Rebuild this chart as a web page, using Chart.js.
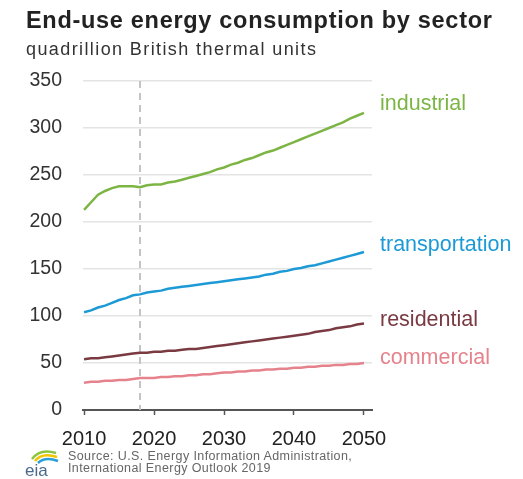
<!DOCTYPE html>
<html>
<head>
<meta charset="utf-8">
<script src="https://cdn.jsdelivr.net/npm/chart.js@4.4.1/dist/chart.umd.min.js"></script>
<style>
body{margin:0;background:#fff;font-family:"Liberation Sans",Arial,sans-serif;}
#cont{position:relative;width:523px;height:479px;overflow:hidden;}
#titulo{position:absolute;left:26px;top:9px;font-size:23.5px;letter-spacing:0.7px;line-height:1;font-weight:bold;color:#222;white-space:nowrap;}
#subtitulo{position:absolute;left:26px;top:40px;font-size:18px;letter-spacing:1.4px;line-height:1;color:#333;white-space:nowrap;}
#grafica{position:absolute;left:0;top:0;}
#fuente{position:absolute;left:68px;top:450px;font-size:12.5px;letter-spacing:0.4px;line-height:12px;color:#666;white-space:nowrap;}
#logo{position:absolute;left:22px;top:446px;}
</style>
</head>
<body>
<div id="cont">
  <canvas id="grafica" width="523" height="479"></canvas>
  <div id="titulo">End-use energy consumption by sector</div>
  <div id="subtitulo">quadrillion British thermal units</div>
  <svg id="logo" width="40" height="32" viewBox="0 0 40 32">
    <path d="M10 13 Q18 2 34 7" stroke="#8cc63f" stroke-width="2.5" fill="none"/>
    <path d="M13 15 Q20 6 35 11" stroke="#f2c500" stroke-width="2.5" fill="none"/>
    <path d="M16 17 Q23 10 36 15" stroke="#2a9fd8" stroke-width="2.5" fill="none"/>
    <text x="3" y="30" font-family="Liberation Sans, Arial, sans-serif" font-size="17" fill="#4a6a8c">eia</text>
  </svg>
  <div id="fuente">Source: U.S. Energy Information Administration,<br>International Energy Outlook 2019</div>
</div>
<script>
//datos
const anios=[2010,2011,2012,2013,2014,2015,2016,2017,2018,2019,2020,2021,2022,2023,2024,2025,2026,2027,2028,2029,2030,
  2031,2032,2033,2034,2035,2036,2037,2038,2039,2040,2041,2042,2043,2044,2045,2046,2047,2048,2049,2050];
const industrial=[213,221,229,233,236,238,238,238,237,239,240,240,242,243,245,247,249,251,253,256,258,
  261,263,266,268,271,274,276,279,282,285,288,291,294,297,300,303,306,310,313,316];
const transportation=[104,106,109,111,114,117,119,122,123,125,126,127,129,130,131,132,133,134,135,136,137,
  138,139,140,141,142,144,145,147,148,150,151,153,154,156,158,160,162,164,166,168];
const residential=[54,55,55,56,57,58,59,60,61,61,62,62,63,63,64,65,65,66,67,68,69,
  70,71,72,73,74,75,76,77,78,79,80,81,83,84,85,87,88,89,91,92];
const commercial=[29,30,30,31,31,32,32,33,34,34,34,35,35,36,36,37,37,38,38,39,40,
  40,41,41,42,42,43,43,44,44,45,45,46,46,47,47,48,48,49,49,50];
const nombres=['industrial','transportation','residential','commercial'];
const ticksX=[2010,2020,2030,2040,2050];
const anioHistorico=2018;

//estilos
const colores=['#7db545','#1d9ad6','#7a3a42','#e5828c'];
const ajusteEtiqueta=[-9,-7,-3,-5];

function puntos(valores){
  return valores.map((v,i)=>({x:anios[i],y:v}));
}

const series=[industrial,transportation,residential,commercial];

//linea punteada y etiquetas al final
const extras={
  id:'extras',
  beforeDatasetsDraw(chart){
    const ctx=chart.ctx;
    const area=chart.chartArea;
    const x=chart.scales.x.getPixelForValue(anioHistorico);
    ctx.save();
    ctx.strokeStyle='#c4c4c4';
    ctx.lineWidth=2;
    ctx.setLineDash([7,5]);
    ctx.beginPath();
    ctx.moveTo(x,area.top);
    ctx.lineTo(x,area.bottom);
    ctx.stroke();
    ctx.restore();
  },
  afterDraw(chart){
    const ctx=chart.ctx;
    const area=chart.chartArea;
    ctx.save();
    ctx.font='21.5px "Liberation Sans", Arial, sans-serif';
    ctx.textBaseline='middle';
    ctx.textAlign='left';
    series.forEach((s,i)=>{
      const y=chart.scales.y.getPixelForValue(s[s.length-1])+ajusteEtiqueta[i];
      ctx.fillStyle=colores[i];
      ctx.fillText(nombres[i],area.right+8,y);
    });
    ctx.restore();
  }
};

new Chart(document.getElementById('grafica'),{
  type:'line',
  data:{
    datasets:series.map((s,i)=>({
      label:nombres[i],
      data:puntos(s),
      borderColor:colores[i],
      borderWidth:2.5,
      pointRadius:0,
      tension:0
    }))
  },
  options:{
    responsive:false,
    animation:false,
    layout:{padding:{left:0,top:81,right:151,bottom:0}},
    plugins:{legend:{display:false},tooltip:{enabled:false}},
    scales:{
      x:{
        type:'linear',
        min:2009.85,
        max:2051.15,
        afterBuildTicks:(s)=>{s.ticks=ticksX.map(v=>({value:v}));},
        afterFit:(s)=>{s.height=69;},
        grid:{drawOnChartArea:false,drawTicks:true,tickLength:5,tickColor:'#555',tickWidth:1.5},
        border:{display:true,color:'#555',width:2},
        ticks:{padding:12,color:'#222',font:{size:20,family:'"Liberation Sans", Arial, sans-serif'},maxRotation:0,
          callback:(v)=>String(v)}
      },
      y:{
        min:0,
        max:350,
        afterFit:(s)=>{s.width=83;},
        grid:{color:'#e4e4e4',lineWidth:1.5,drawTicks:false},
        border:{display:false},
        ticks:{stepSize:50,padding:21,color:'#333',font:{size:19.5,family:'"Liberation Sans", Arial, sans-serif'}}
      }
    }
  },
  plugins:[extras]
});
</script>
</body>
</html>
